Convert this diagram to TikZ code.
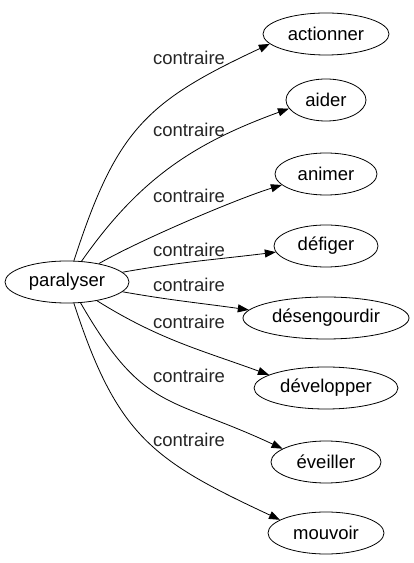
\documentclass[tikz,border=0pt]{standalone}
\usepackage{fontspec}
\setmainfont{Liberation Sans}
\usetikzlibrary{shapes.geometric,arrows.meta,positioning}

\begin{document}
\begin{tikzpicture}[
  x=1pt, y=1pt,
  font=\fontsize{18.5}{20}\selectfont,
  word/.style={draw, ellipse, line width=0.8pt, inner sep=0pt,
               minimum height=42pt},
  rel/.style={text=black!85},
  edge/.style={line width=0.8pt, -{Triangle[length=11pt,width=8pt]}}
]
\useasboundingbox (0,0) rectangle (414,563);

%% --- source word ---
\node[word, minimum width=124pt] (par) at (67,281) {paralyser};

%% --- opposite words ---
\node[word, minimum width=126pt] (act) at (326,529) {actionner};
\node[word, minimum width=80pt]  (aid) at (326,463) {aider};
\node[word, minimum width=102pt] (ani) at (326,389) {animer};
\node[word, minimum width=104pt] (def) at (326,317) {défiger};
\node[word, minimum width=166pt] (des) at (326,245) {désengourdir};
\node[word, minimum width=144pt] (dev) at (326,175) {développer};
\node[word, minimum width=110pt] (eve) at (326,101) {éveiller};
\node[word, minimum width=116pt] (mou) at (326,30)  {mouvoir};

%% --- edge labels ---
\node[rel] (r1) at (189,505) {contraire};
\node[rel] (r2) at (189,433) {contraire};
\node[rel] (r3) at (189,367) {contraire};
\node[rel] (r4) at (189,313) {contraire};
\node[rel] (r5) at (189,278) {contraire};
\node[rel] (r6) at (189,241) {contraire};
\node[rel] (r7) at (189,187) {contraire};
\node[rel] (r8) at (189,123) {contraire};

%% --- edges ---
\draw[edge] (par.72)  to[out=72,  in=205, looseness=1.2] (act.190);
\draw[edge] (par.55)  to[out=55,  in=200] (aid.193);
\draw[edge] (par.30)  to[out=30,  in=197, looseness=0.6] (ani.194);
\draw[edge] (par.10)  to[out=10,  in=187] (def.187);
\draw[edge] (par.-10) to[out=-10, in=172] (des.174);
\draw[edge] (par.-32) to[out=-32, in=160] (dev.167);
\draw[edge] (par.-57) to[out=-60, in=155, looseness=1.3] (eve.163);
\draw[edge] (par.-72) to[out=-72, in=155, looseness=1.2] (mou.164);
\end{tikzpicture}
\end{document}
